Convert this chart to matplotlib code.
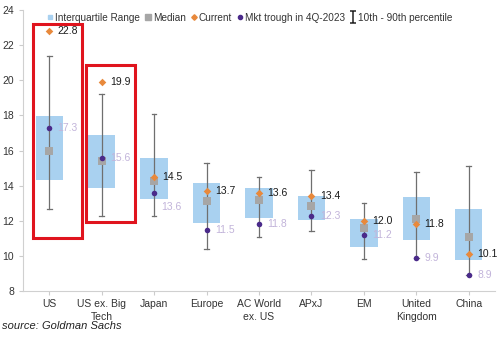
import matplotlib
matplotlib.use("Agg")
import matplotlib.pyplot as plt
from matplotlib.lines import Line2D
from matplotlib.patches import Rectangle
from matplotlib.path import Path

plt.rcParams['font.family'] = ['Liberation Sans', 'DejaVu Sans']

categories = ["US", "US ex. Big\nTech", "Japan", "Europe", "AC World\nex. US", "APxJ", "EM", "United\nKingdom", "China"]
p10 = [12.7, 12.3, 12.3, 10.4, 11.1, 11.4, 9.8, 9.9, 8.9]
p90 = [21.4, 19.2, 18.1, 15.3, 14.5, 14.9, 13.0, 14.8, 15.1]
q25 = [14.3, 13.85, 13.25, 11.9, 12.15, 12.05, 10.5, 10.9, 9.75]
q75 = [17.95, 16.9, 15.6, 14.15, 13.85, 13.4, 12.1, 13.35, 12.65]
median = [15.95, 15.4, 14.25, 13.15, 13.2, 12.85, 11.6, 12.1, 11.1]
current = [22.8, 19.9, 14.5, 13.7, 13.6, 13.4, 12.0, 11.8, 10.1]
trough = [17.3, 15.6, 13.6, 11.5, 11.8, 12.3, 11.2, 9.9, 8.9]
highlight = [0, 1]
highlight_ranges = [(11.0, 23.2), (11.95, 20.9)]

fig = plt.figure(figsize=(5.0, 3.38), dpi=100)
ax = fig.add_axes([0.046, 0.139, 0.944, 0.831])

box_c = '#a9d1f0'
med_c = '#a6a6a6'
cur_c = '#e8893c'
tr_c = '#4a2a8a'
wh_c = '#6f6f6f'
lab_tr = '#c2b4da'

x = list(range(len(categories)))
bw = 0.52
for i in x:
    ax.add_patch(Rectangle((i - bw / 2, q25[i]), bw, q75[i] - q25[i],
                           facecolor=box_c, edgecolor='none', zorder=1))
    ax.plot([i, i], [p10[i], p90[i]], color=wh_c, lw=0.9, zorder=2)
    for v in (p10[i], p90[i]):
        ax.plot([i - 0.045, i + 0.045], [v, v], color=wh_c, lw=0.9, zorder=2)

ax.scatter(x, median, marker='s', s=32, color=med_c, zorder=3, linewidths=0)
ax.scatter(x, trough, marker='o', s=16, color=tr_c, zorder=4, linewidths=0)
ax.scatter(x, current, marker='D', s=15, color=cur_c, zorder=5, linewidths=0)

for i, (lo, hi) in zip(highlight, highlight_ranges):
    ax.add_patch(Rectangle((i - 0.30, lo), 0.93, hi - lo, facecolor='none',
                           edgecolor='#e0141e', lw=2.2, zorder=6, clip_on=False))

for i in x:
    ax.annotate(f"{current[i]:.1f}", (i, current[i]), xytext=(6, 0),
                textcoords='offset points', va='center', ha='left',
                fontsize=7.5, color='#1a1a1a', zorder=8)
    off = (5, -10) if i == 2 else (6, 0)
    ax.annotate(f"{trough[i]:.1f}", (i, trough[i]), xytext=off,
                textcoords='offset points', va='center', ha='left',
                fontsize=7.5, color=lab_tr, zorder=8)

ax.set_xlim(-0.5, 8.5)
ax.set_ylim(8, 24)
ax.set_yticks(range(8, 25, 2))
ax.set_xticks(x)
ax.set_xticklabels(categories, fontsize=7.5, color='#333333', linespacing=1.35)
ax.tick_params(axis='y', labelsize=7.5, colors='#333333', length=3, color='#cccccc')
ax.tick_params(axis='x', length=3, color='#cccccc', pad=3)
for s in ('top', 'right'):
    ax.spines[s].set_visible(False)
for s in ('left', 'bottom'):
    ax.spines[s].set_color('#d0d0d0')
    ax.spines[s].set_linewidth(0.8)

ibeam = Path([(-0.5, 1), (0.5, 1), (0, 1), (0, -1), (-0.5, -1), (0.5, -1)],
             [Path.MOVETO, Path.LINETO, Path.MOVETO, Path.LINETO, Path.MOVETO, Path.LINETO])
handles = [
    Line2D([], [], marker='s', ls='none', ms=2.5, color=box_c),
    Line2D([], [], marker='s', ls='none', ms=4, color=med_c),
    Line2D([], [], marker='D', ls='none', ms=2.8, color=cur_c),
    Line2D([], [], marker='o', ls='none', ms=3, color=tr_c),
    Line2D([], [], marker=ibeam, ls='none', ms=9, mew=1.1, color='#222222'),
]
labels = ["Interquartile Range", "Median", "Current", "Mkt trough in 4Q-2023", "10th - 90th percentile"]
fig.legend(handles, labels, loc='center', bbox_to_anchor=(0.5, 0.948), ncol=5,
           frameon=False, fontsize=7.2, handlelength=0.5, handletextpad=0.25,
           columnspacing=0.55, labelcolor='#333333')

fig.text(0.004, 0.028, "source: Goldman Sachs", fontsize=8, style='italic', color='#222222')

fig.savefig("out.png", dpi=100)
